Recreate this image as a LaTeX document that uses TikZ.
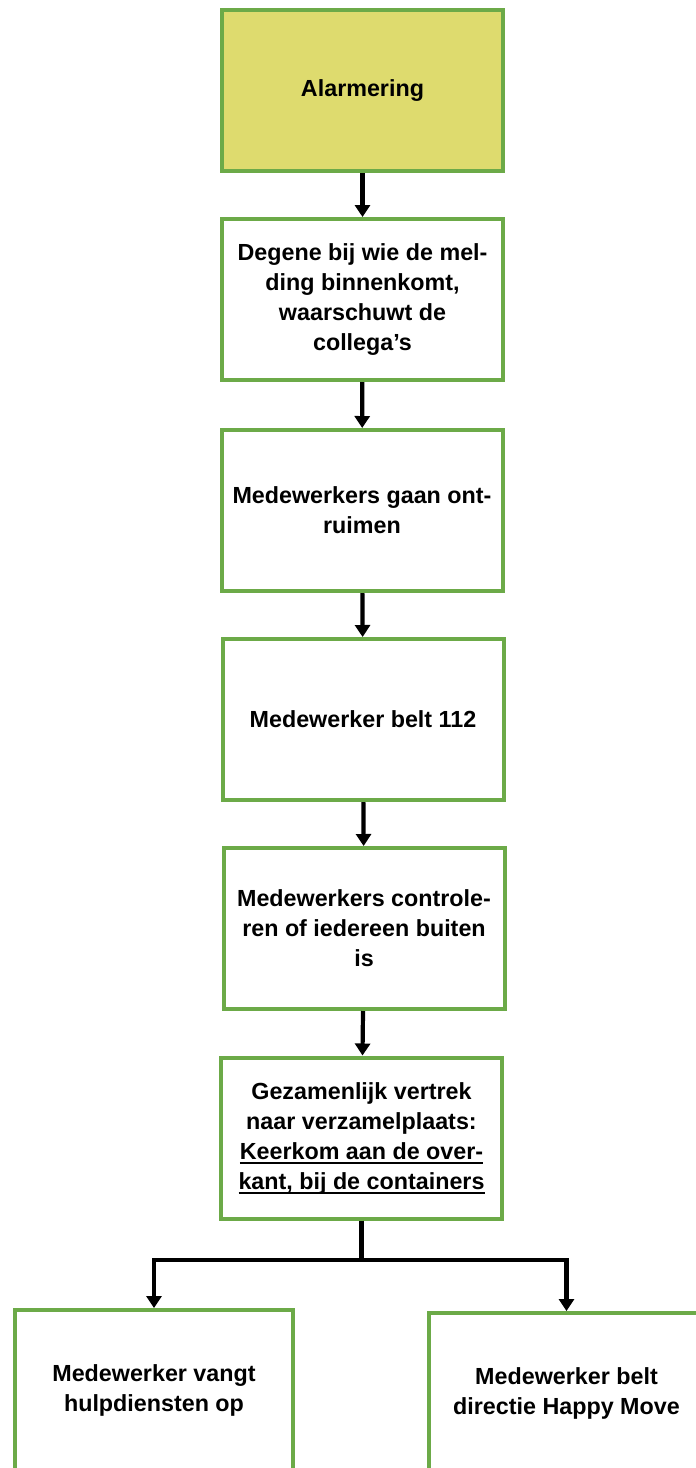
\documentclass[tikz,border=0pt]{standalone}
\usepackage{fontspec}
\setmainfont{Liberation Sans}
\newsavebox\ulbox
\newcommand\ulx[1]{\sbox\ulbox{#1}\usebox\ulbox\llap{\rule[-4.5pt]{\wd\ulbox}{1.8pt}}}
\usetikzlibrary{arrows.meta}
\definecolor{boxgreen}{RGB}{108,170,72}
\definecolor{alarmfill}{RGB}{222,219,110}
\tikzset{
  flowbox/.style={draw=boxgreen, line width=4pt, fill=white, rectangle,
    minimum width=281pt, minimum height=161pt, align=center, inner sep=4pt,
    font=\fontsize{23.3}{30}\selectfont\bfseries},
  arr/.style={draw=black, line width=4.2pt, -{Triangle[width=15pt,length=12pt]}},
  link/.style={draw=black, line width=4.2pt}
}
\begin{document}
\begin{tikzpicture}[x=1pt,y=-1pt]
\useasboundingbox (0,0) rectangle (696,1468);
\clip (0,0) rectangle (696,1468);
\node[flowbox, fill=alarmfill] (b1) at (362.5,90.5) {Alarmering};
\node[flowbox] (b2) at (362.5,299.5) {Degene bij wie de mel-\\ding binnenkomt,\\waarschuwt de\\collega’s};
\node[flowbox] (b3) at (362,510.5) {Medewerkers gaan ont-\\ruimen};
\node[flowbox] (b4) at (363,719.5) {Medewerker belt 112};
\node[flowbox] (b5) at (364,928.5) {Medewerkers controle-\\ren of iedereen buiten\\is};
\node[flowbox] (b6) at (361.5,1138) {Gezamenlijk vertrek\\naar verzamelplaats:\\\ulx{Keerkom aan de over-}\\\ulx{kant, bij de containers}};
\node[flowbox, minimum width=278pt] (b7) at (154,1390.5) {Medewerker vangt\\hulpdiensten op};
\node[flowbox, minimum width=275pt] (b8) at (566.5,1393.5) {Medewerker belt\\directie Happy Move};
\coordinate (j) at (b6.south |- 0,1260);
\draw[arr] (b1) -- (b2);
\draw[arr] (b2) -- (b3);
\draw[arr] (b3) -- (b4);
\draw[arr] (b4) -- (b5);
\draw[arr] (b5) -- (b6);
\draw[link] (b6) -- (j);
\draw[arr] ([xshift=2.1pt]j) -| (b7.north);
\draw[arr] ([xshift=-2.1pt]j) -| (b8.north);
\end{tikzpicture}
\end{document}
